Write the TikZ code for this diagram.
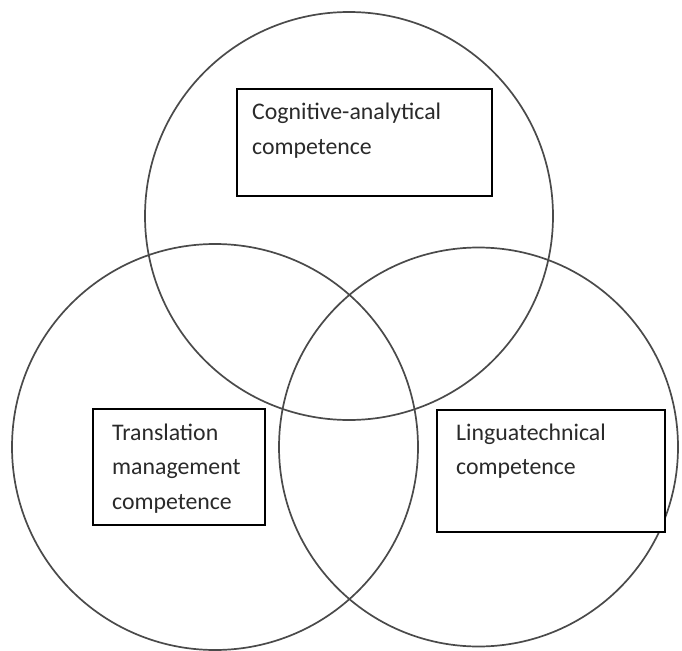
\documentclass[tikz,border=0pt]{standalone}
\usepackage{fontspec}
\setmainfont{Carlito}
\usetikzlibrary{calc}
\definecolor{ringgray}{HTML}{4A4A4A}
\definecolor{textgray}{HTML}{2A2A2A}
\tikzset{
  ring/.style={circle, draw=ringgray, line width=1.7pt, inner sep=0pt, outer sep=0pt},
  cbox/.style={rectangle, draw=black, line width=1.3pt, inner sep=0pt, outer sep=0pt, anchor=north west},
  ctext/.style={text=textgray, font=\fontsize{23.8pt}{34.5pt}\selectfont, align=left, text width=220pt, inner sep=0pt, anchor=base west}
}
\begin{document}
\begin{tikzpicture}[x=1pt, y=-1pt]
\useasboundingbox[fill=white] (0,0) rectangle (682,650);
% circles
\node[ring, minimum size=408pt] (ctop) at (349,216) {};
\node[ring, minimum size=406pt] (cleft) at (215,447) {};
\node[ring, minimum size=399pt] (cright) at (478.5,447) {};
% boxes
\node[cbox, fill=white, minimum width=255pt, minimum height=107pt] (b1) at (237,89) {};
\node[cbox, fill=white, minimum width=172pt, minimum height=116pt] (b2) at (93,409) {};
\node[cbox, fill=white, minimum width=228pt, minimum height=122pt] (b3) at (437,410) {};
% texts
\node[ctext] (t1) at (252,120) {Cognitive-analytical\\competence};
\node[ctext] (t2) at (112,440) {Translation\\management\\competence};
\node[ctext] (t3) at (456,440) {Linguatechnical\\competence};
\end{tikzpicture}
\end{document}
